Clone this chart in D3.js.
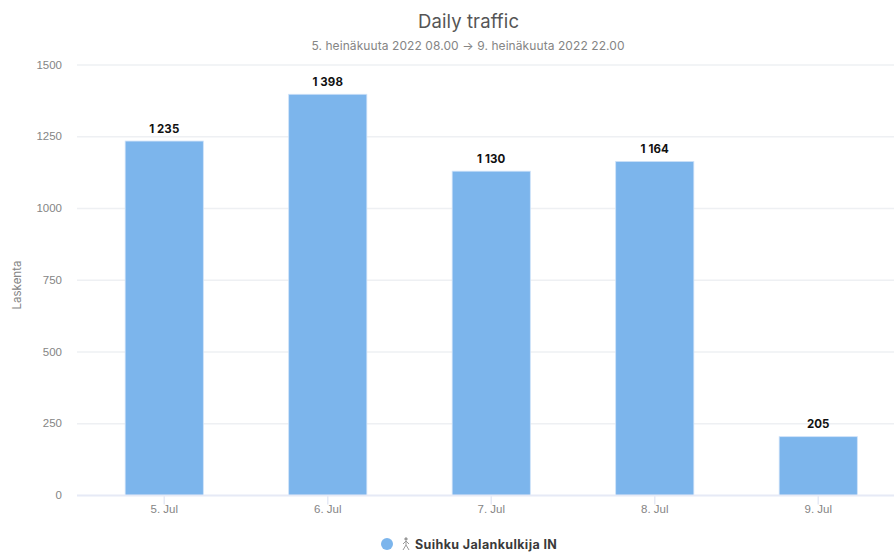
<!DOCTYPE html>
<html><head><meta charset="utf-8">
<script src="https://cdn.jsdelivr.net/npm/d3@7/dist/d3.min.js"></script>
<style>html,body{margin:0;padding:0;background:#fff;overflow:hidden}svg{display:block;font-family:Inter,"Open Sans",sans-serif}</style>
</head><body><svg id="c" width="894" height="554"></svg>
<script>
const categories=["5. Jul","6. Jul","7. Jul","8. Jul","9. Jul"];
const values=[1235,1398,1130,1164,205];
const valueLabels=["1 235","1 398","1 130","1 164","205"];
const yTicks=[0,250,500,750,1000,1250,1500];
const title="Daily traffic";
const subtitle="5. heinäkuuta 2022 08.00 → 9. heinäkuuta 2022 22.00";
const yTitle="Laskenta";
const seriesName="Suihku Jalankulkija IN";

const svg=d3.select("#c");
const x=d3.scaleBand().domain(categories).range([82.5,900]).paddingInner(0.522).paddingOuter(0.261);
const y=d3.scaleLinear().domain([0,1500]).range([495.5,65]);

const yAxis=d3.axisLeft(y).tickValues(yTicks).tickSize(0).tickPadding(15).tickFormat(d=>d);
const gy=svg.append("g").attr("transform","translate(77,0)").call(yAxis);
gy.select(".domain").remove();
gy.selectAll("text").attr("fill","#858585").attr("font-size",11.5).attr("font-family","inherit").attr("dy","0.26em");
svg.append("g").selectAll("line").data(yTicks.filter(d=>d>0)).join("line")
 .attr("x1",77).attr("x2",894).attr("y1",d=>y(d)).attr("y2",d=>y(d)).attr("stroke","#eef0f3").attr("stroke-width",1.5);

svg.append("g").selectAll("rect").data(values).join("rect")
 .attr("x",(d,i)=>x(categories[i])).attr("width",x.bandwidth())
 .attr("y",d=>y(d)).attr("height",d=>y(0)-y(d)).attr("fill","#7cb5ec")
 .attr("stroke","#cfe2f8").attr("stroke-width",0.8);

const xAxis=d3.axisBottom(x).tickSize(9).tickPadding(0);
const gx=svg.append("g").attr("transform","translate(0,495.5)").call(xAxis);
gx.select(".domain").remove();
gx.selectAll("line").attr("stroke","#e6eaf6").attr("stroke-width",1.5);
gx.selectAll("text").attr("fill","#858585").attr("font-size",11.5).attr("font-family","inherit");
svg.append("line").attr("x1",77).attr("x2",894).attr("y1",495.5).attr("y2",495.5).attr("stroke","#e6eaf6").attr("stroke-width",2);

svg.append("g").selectAll("text").data(values).join("text")
 .attr("x",(d,i)=>x(categories[i])+x.bandwidth()/2).attr("y",d=>y(d)-8.5)
 .attr("text-anchor","middle").attr("font-size",11.5).attr("font-weight",700).attr("fill","#111")
 .attr("letter-spacing",0.1).text((d,i)=>valueLabels[i]);

svg.append("text").attr("x",468.5).attr("y",28).attr("text-anchor","middle").attr("font-size",18.5).attr("fill","#555").attr("letter-spacing",0.1).text(title);
svg.append("text").attr("x",468).attr("y",50).attr("text-anchor","middle").attr("font-size",12).attr("fill","#858585").attr("letter-spacing",0.08).text(subtitle);
svg.append("text").attr("transform","translate(21,285) rotate(-90)").attr("text-anchor","middle").attr("font-size",11.5).attr("fill","#858585").text(yTitle);

svg.append("circle").attr("cx",387).attr("cy",544).attr("r",6).attr("fill","#7cb5ec");
const w=svg.append("g").attr("transform","translate(406,544)").attr("fill","none").attr("stroke","#999").attr("stroke-width",1);
w.append("circle").attr("cx",0).attr("cy",-5).attr("r",1.2).attr("fill","#999");
w.append("path").attr("d","M0,-3V1M0,1L-3,6M0,1L3,6M0,-3L-3,0M0,-3L3,0");
svg.append("text").attr("x",415).attr("y",549).attr("font-size",12.5).attr("font-weight",700).attr("fill","#3a3a3a").attr("letter-spacing",0.38).text(seriesName);
</script></body></html>
